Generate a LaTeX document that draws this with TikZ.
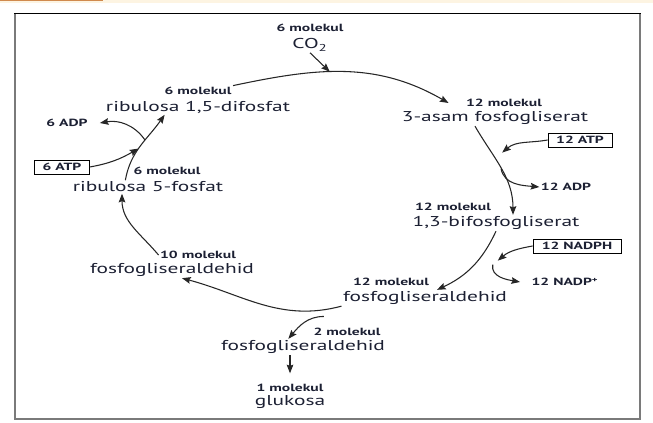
\documentclass[tikz,border=0pt]{standalone}
\usepackage{fontspec}
\setmainfont{PT Sans}[FakeStretch=1.5]
\usepackage{xcolor}
\usetikzlibrary{positioning, arrows.meta}
\definecolor{ink}{HTML}{1C2033}
\definecolor{frame}{HTML}{7A7A7A}
\definecolor{tab}{HTML}{D08A4E}
\definecolor{cream}{HTML}{FDF4E2}

\begin{document}
\begin{tikzpicture}[
      x=0.75pt, y=0.75pt,
      every node/.style={text=ink, inner sep=1pt},
      compound/.style={font=\fontsize{10.7}{12}\selectfont},
      count/.style={font=\fontsize{7.8}{9}\selectfont\bfseries},
      cofactor/.style={rectangle, draw=black, line width=0.6pt, minimum height=10.5pt,
                       font=\fontsize{7.8}{9}\selectfont\bfseries},
      arr/.style={-{Stealth[length=6.5pt, width=5pt, inset=1pt]}, draw=black!85, line width=0.8pt},
    ]
    \useasboundingbox (0,0) rectangle (653,422);
    % top strip and frame
    \fill[cream] (0,419) rectangle (653,422);
    \fill[tab] (0,420.5) rectangle (103,422);
    \draw[frame, line width=2.2pt] (15,409) -- (15,3) -- (640,3) -- (640,409);
    \draw[black, line width=0.6pt] (14,409) -- (641,409);

    % compounds of the cycle
    \node[count]    (co2m) at (310,394) {6 molekul};
    \node[compound] (co2)  at (310,377) {CO\textsubscript{2}};
    \node[count]    (rdpm) at (198,331) {6 molekul};
    \node[compound] (rdp)  at (198,315) {ribulosa 1,5-difosfat};
    \node[count]    (pgam) at (504,319) {12 molekul};
    \node[compound] (pga)  at (495,304) {3-asam fosfogliserat};
    \node[count]    (bpgm) at (453,215) {12 molekul};
    \node[compound] (bpg)  at (496,199) {1,3-bifosfogliserat};
    \node[count]    (g3pm) at (391,140) {12 molekul};
    \node[compound] (g3p)  at (425,124) {fosfogliseraldehid};
    \node[count]    (g10m) at (198,167) {10 molekul};
    \node[compound] (g10)  at (172,152) {fosfogliseraldehid};
    \node[count]    (r5pm) at (167,251) {6 molekul};
    \node[compound] (r5p)  at (148,235) {ribulosa 5-fosfat};
    \node[count]    (g2m)  at (347,90)  {2 molekul};
    \node[compound] (g2)   at (303,75)  {fosfogliseraldehid};
    \node[count]    (glum) at (290,34)  {1 molekul};
    \node[compound] (glu)  at (290,20)  {glukosa};

    % cofactors
    \node[cofactor, minimum width=48pt] (atp12) at (580,282) {12 ATP};
    \node[count]                        (adp12) at (566,235) {12 ADP};
    \node[cofactor, minimum width=66pt] (nadph) at (577,176) {12 NADPH};
    \node[count]                        (nadp)  at (565,140) {12 NADP\textsuperscript{+}};
    \node[cofactor, minimum width=41pt] (atp6)  at (62,255)  {6 ATP};
    \node[count]                        (adp6)  at (67,299)  {6 ADP};

    % the cycle
    \draw[arr] (rdpm.north east) to[out=12, in=150]
        coordinate[pos=0.43] (jc) ([xshift=-12pt]pgam.west);
    \draw[arr] ([xshift=-15pt]pga.south) to[out=-60, in=90]
        coordinate[pos=0.3, xshift=8pt] (j12) coordinate[pos=0.5] (b12)
        ([xshift=12.75pt]bpg.north);
    \draw[arr] (bpg.south) to[out=-115, in=25]
        coordinate[pos=0.4, xshift=15pt] (jn) coordinate[pos=0.47, xshift=14pt] (bn)
        ([xshift=9pt]g3p.north);
    \draw[arr] (g3p.south west) to[out=-165, in=-15]
        coordinate[pos=0.1, yshift=-5pt] (bc) ([xshift=7.5pt]g10.south);
    \draw[arr] (g10m.west) to[out=130, in=-90] ([xshift=-19.5pt]r5p.south);
    \draw[arr] ([xshift=-17pt]r5p.north) to[out=80, in=-125]
        coordinate[pos=0.45] (j6) coordinate[pos=0.6] (b6) ([xshift=-25pt]rdp.south);

    % inputs and outputs
    \draw[arr] (co2.south) -- (jc);
    \draw[arr] (atp12.west) to[out=190, in=40] (j12);
    \draw[arr] (b12) to[out=-80, in=175] (adp12.west);
    \draw[arr] (nadph.west) to[out=190, in=40] (jn);
    \draw[arr] (bn) to[out=-100, in=170] ([xshift=-7.5pt]nadp.west);
    \draw[arr] (atp6.east) to[out=10, in=210] (j6);
    \draw[arr] (b6) to[out=125, in=10] ([xshift=8pt]adp6.east);
    \draw[arr] (bc) to[out=180, in=50] ([xshift=-11pt]g2.north);
    \draw[arr, shorten >=7pt] (g2.south -| glum.north) -- (glum.north);
  \end{tikzpicture}
\end{document}
